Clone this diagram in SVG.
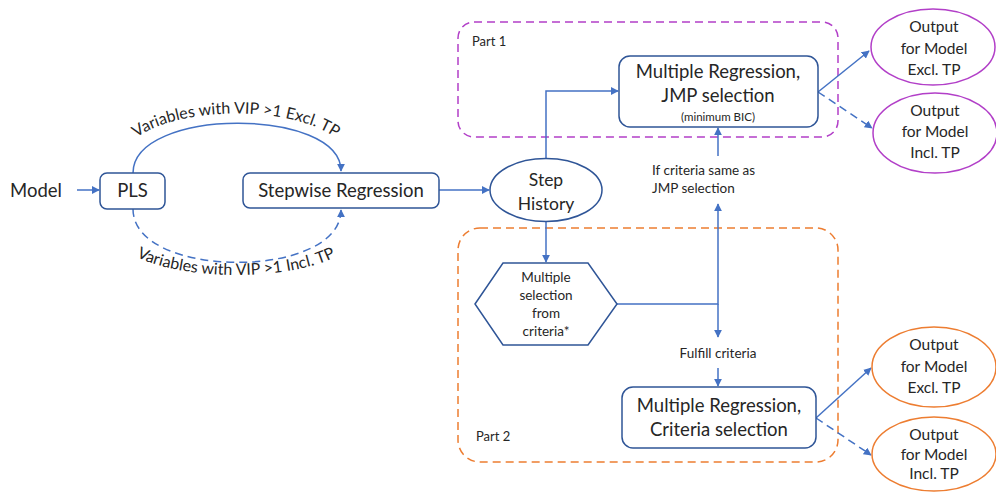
<svg xmlns="http://www.w3.org/2000/svg" width="996" height="492" viewBox="0 0 996 492">
<defs>
<style>
text{font-family:Lato,"Open Sans","Liberation Sans",sans-serif;fill:#262626}
.node{fill:#fff;stroke:#2F5597;stroke-width:1.5}
.conn{fill:none;stroke:#4472C4;stroke-width:1.5}
.dash{stroke-dasharray:8 5}
.mid{text-anchor:middle}
.pu{fill:#fff;stroke:#B23FC8;stroke-width:1.5}
.or{fill:#fff;stroke:#ED7D31;stroke-width:1.5}
</style>
<marker id="ah" viewBox="0 0 10 10" refX="9" refY="5" markerWidth="8" markerHeight="8" markerUnits="userSpaceOnUse" orient="auto">
<path d="M0,0 L10,5 L0,10 z" fill="#4472C4"/>
</marker>
<path id="tp1" d="M116,172 C116,94 356,94 356,172"/>
<path id="tp2" d="M110,224 C110,292 362,292 362,224"/>
</defs>

<g id="part1">
<rect x="458" y="22" width="380" height="115" rx="16" fill="none" stroke="#B23FC8" stroke-width="1.5" stroke-dasharray="8 5"/>
<text x="472" y="46" font-size="13">Part 1</text>
</g>
<g id="part2">
<rect x="458" y="228" width="380" height="234" rx="22" fill="none" stroke="#ED7D31" stroke-width="1.5" stroke-dasharray="8 5"/>
<text x="476" y="441" font-size="13">Part 2</text>
</g>

<g id="connectors">
<line class="conn" x1="77" y1="190" x2="99" y2="190" marker-end="url(#ah)"/>
<path class="conn" d="M133,173 C133,107 341,107 341,171" marker-end="url(#ah)"/>
<path class="conn dash" d="M133,209 C133,280 341,280 341,210" marker-end="url(#ah)"/>
<line class="conn" x1="439" y1="190" x2="489" y2="190" marker-end="url(#ah)"/>
<path class="conn" d="M546,159 L546,91 L618,91" marker-end="url(#ah)"/>
<line class="conn" x1="546" y1="222" x2="546" y2="262" marker-end="url(#ah)"/>
<path class="conn" d="M617,304 L718,304 L718,204" marker-end="url(#ah)"/>
<line class="conn" x1="718" y1="304" x2="718" y2="337" marker-end="url(#ah)"/>
<line class="conn" x1="718" y1="156" x2="718" y2="128" marker-end="url(#ah)"/>
<line class="conn" x1="718" y1="368" x2="718" y2="386" marker-end="url(#ah)"/>
<line class="conn" x1="818" y1="92" x2="869" y2="51" marker-end="url(#ah)"/>
<line class="conn dash" x1="818" y1="92" x2="872" y2="128" marker-end="url(#ah)"/>
<line class="conn" x1="816" y1="418" x2="871" y2="368" marker-end="url(#ah)"/>
<line class="conn dash" x1="816" y1="418" x2="871" y2="455" marker-end="url(#ah)"/>
<text font-size="16"><textPath href="#tp1" startOffset="50%" text-anchor="middle">Variables with VIP &gt;1 Excl. TP</textPath></text>
<text font-size="16"><textPath href="#tp2" startOffset="50%" text-anchor="middle">Variables with VIP &gt;1 Incl. TP</textPath></text>
<text x="652" y="175" font-size="13.5">If criteria same as</text>
<text x="652" y="193" font-size="13.5">JMP selection</text>
<text x="718" y="358" font-size="13.5" class="mid">Fulfill criteria</text>
</g>

<g id="model">
<text x="10" y="197" font-size="18.5">Model</text>
</g>
<g id="pls">
<rect class="node" x="100" y="173" width="65" height="36" rx="7"/>
<text x="132.5" y="197" font-size="18.5" class="mid">PLS</text>
</g>
<g id="stepwise">
<rect class="node" x="243" y="173" width="196" height="35" rx="7"/>
<text x="341" y="197" font-size="18.5" class="mid">Stepwise Regression</text>
</g>
<g id="stephistory">
<ellipse class="node" cx="546" cy="190" rx="56" ry="31.5"/>
<text x="546" y="186" font-size="17.5" class="mid">Step</text>
<text x="546" y="210" font-size="17.5" class="mid">History</text>
</g>
<g id="jmp">
<rect class="node" x="619" y="56" width="199" height="71" rx="11"/>
<text x="718" y="78" font-size="18.5" class="mid">Multiple Regression,</text>
<text x="718" y="102" font-size="18.5" class="mid">JMP selection</text>
<text x="718" y="121" font-size="11.5" class="mid">(minimum BIC)</text>
</g>
<g id="multisel">
<polygon class="node" points="475,304 503,263 588,263 617,304 588,345 503,345"/>
<text x="546" y="282" font-size="13.5" class="mid">Multiple</text>
<text x="546" y="300" font-size="13.5" class="mid">selection</text>
<text x="546" y="318" font-size="13.5" class="mid">from</text>
<text x="546" y="336" font-size="13.5" class="mid">criteria*</text>
</g>
<g id="criteria">
<rect class="node" x="622" y="387" width="194" height="61" rx="11"/>
<text x="719" y="412" font-size="18.5" class="mid">Multiple Regression,</text>
<text x="719" y="436" font-size="18.5" class="mid">Criteria selection</text>
</g>
<g id="out1">
<ellipse class="pu" cx="933" cy="47" rx="62" ry="38"/>
<text x="934" y="32" font-size="15.5" class="mid">Output</text>
<text x="934" y="54" font-size="15.5" class="mid">for Model</text>
<text x="934" y="75" font-size="15.5" class="mid">Excl. TP</text>
</g>
<g id="out2">
<ellipse class="pu" cx="935" cy="133" rx="62" ry="40"/>
<text x="935" y="116" font-size="15.5" class="mid">Output</text>
<text x="935" y="137" font-size="15.5" class="mid">for Model</text>
<text x="935" y="158" font-size="15.5" class="mid">Incl. TP</text>
</g>
<g id="out3">
<ellipse class="or" cx="934" cy="367" rx="62" ry="40"/>
<text x="934" y="350" font-size="15.5" class="mid">Output</text>
<text x="934" y="372" font-size="15.5" class="mid">for Model</text>
<text x="934" y="393" font-size="15.5" class="mid">Excl. TP</text>
</g>
<g id="out4">
<ellipse class="or" cx="934" cy="454" rx="62" ry="37"/>
<text x="934" y="440" font-size="15.5" class="mid">Output</text>
<text x="934" y="460" font-size="15.5" class="mid">for Model</text>
<text x="934" y="479" font-size="15.5" class="mid">Incl. TP</text>
</g>
</svg>
